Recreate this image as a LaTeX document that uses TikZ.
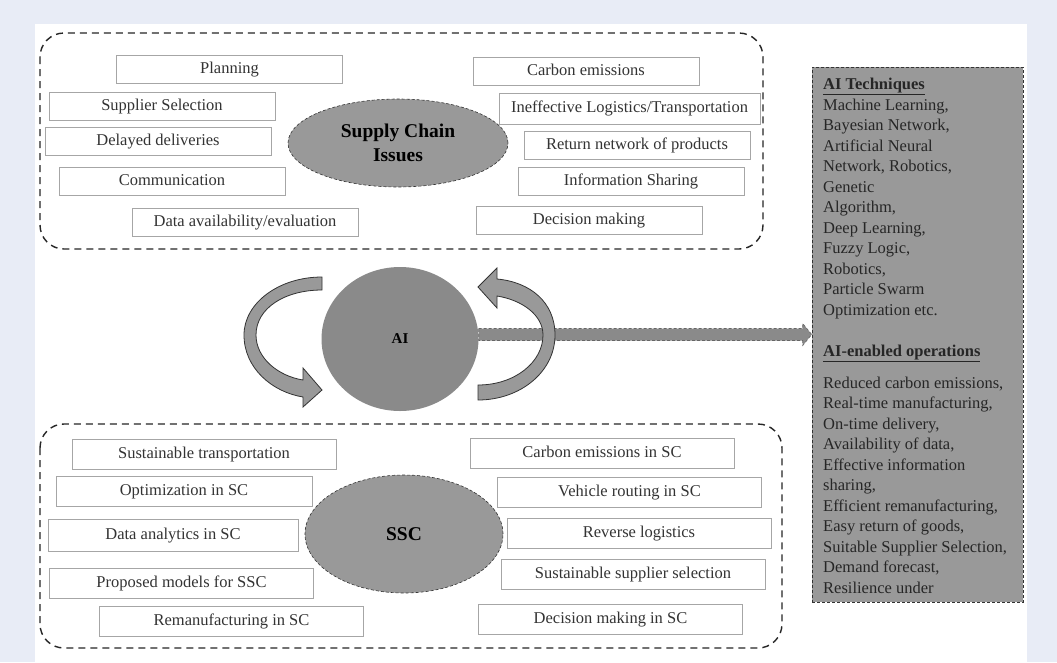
\documentclass[tikz,border=0pt]{standalone}
\usepackage{fontspec}
\setmainfont{Liberation Serif}
\usetikzlibrary{shapes.geometric}

\definecolor{pagebg}{HTML}{E8ECF6}
\definecolor{aigrey}{HTML}{8A8A8A}
\definecolor{midgrey}{HTML}{999999}

\tikzset{
	item/.style={draw=black!35, fill=white, inner sep=0pt, minimum width=226pt, minimum height=28pt, text height=11.5pt, text depth=3.5pt, text=black!80, font=\fontsize{16.5}{19}\selectfont},
	wideitem/.style={item, minimum width=264pt, minimum height=30pt},
	topic/.style={ellipse, draw=black!80, line width=0.6pt, densely dashed, fill=midgrey, inner sep=0pt, align=center, font=\fontsize{19.5}{24}\selectfont\bfseries},
	groupbox/.style={draw=black!85, line width=1.4pt, dash pattern=on 7pt off 5pt, rounded corners=24pt},
	flowarrow/.style={fill=aigrey, draw=black!60, line width=0.6pt, densely dashed},
	cyclearrow/.style={fill=midgrey, draw=black!80, line width=0.8pt}
}

\begin{document}
\begin{tikzpicture}[x=1pt,y=-1pt]
	% page background
	\useasboundingbox (0,0) rectangle (1057,662);
	\fill[pagebg] (0,0) rectangle (1057,662);
	\fill[white] (35,24) rectangle (1027,662);

	% draw the two groups
	\draw[groupbox] (40,33) rectangle (763,249);
	\draw[groupbox] (40,424) rectangle (782,648);

	% supply chain issues
	\node[topic, minimum width=220pt, minimum height=88pt] (issues) at (398,143) {Supply Chain\\Issues};
	\node[item] (planning) at (229.5,69.5) {Planning};
	\node[item] (supplier) at (162,106) {Supplier Selection};
	\node[item] (delayed) at (158,141.5) {Delayed deliveries};
	\node[item] (communication) at (172,181.5) {Communication};
	\node[item] (dataavail) at (245,222) {Data availability/evaluation};
	\node[item] (carbon) at (586,71.5) {Carbon emissions};
	\node[item, minimum width=261pt, minimum height=31pt] (logistics) at (629.5,108.5) {Ineffective Logistics/Transportation};
	\node[item] (returnnet) at (637,145) {Return network of products};
	\node[item] (infosharing) at (631,181.5) {Information Sharing};
	\node[item] (decision) at (589,220) {Decision making};

	% sustainable supply chain
	\node[topic, minimum width=198pt, minimum height=118pt] (ssc) at (404,534) {SSC};
	\node[wideitem] (transport) at (204,454) {Sustainable transportation};
	\node[wideitem, minimum width=256pt] (optim) at (184,491) {Optimization in SC};
	\node[wideitem, minimum width=250pt, minimum height=32pt] (analytics) at (173,535) {Data analytics in SC};
	\node[wideitem] (models) at (181.5,583.5) {Proposed models for SSC};
	\node[wideitem] (reman) at (231.5,621) {Remanufacturing in SC};
	\node[wideitem] (carbonsc) at (602,453.5) {Carbon emissions in SC};
	\node[wideitem] (routing) at (629.5,492) {Vehicle routing in SC};
	\node[wideitem] (reverse) at (639,533) {Reverse logistics};
	\node[wideitem] (sussupplier) at (633,574) {Sustainable supplier selection};
	\node[wideitem] (decisionsc) at (610.5,619) {Decision making in SC};

	% AI techniques and operations
	\node[draw=black!80, line width=0.6pt, densely dashed, fill=midgrey, minimum width=211pt, minimum height=535pt] (aibox) at (917.5,334.5) {};
	\node[anchor=north west, inner sep=0pt, align=left, text=black!85, font=\fontsize{16.5}{20.5}\selectfont] (aitext) at (823,78) {%
		\underline{\textbf{AI Techniques}}\\
		Machine Learning,\\
		Bayesian Network,\\
		Artificial Neural\\
		Network, Robotics,\\
		Genetic\\
		Algorithm,\\
		Deep Learning,\\
		Fuzzy Logic,\\
		Robotics,\\
		Particle Swarm\\
		Optimization etc.\\[20.5pt]
		\underline{\textbf{AI-enabled operations}}\\[11.5pt]
		Reduced carbon emissions,\\
		Real-time manufacturing,\\
		On-time delivery,\\
		Availability of data,\\
		Effective information\\
		sharing,\\
		Efficient remanufacturing,\\
		Easy return of goods,\\
		Suitable Supplier Selection,\\
		Demand forecast,\\
		Resilience under};

	% the AI circle
	\node[ellipse, fill=aigrey, minimum width=157pt, minimum height=144pt, inner sep=0pt, font=\fontsize{15}{18}\selectfont\bfseries] (ai) at (400,339) {AI};

	% arrow from AI to the box
	\coordinate (tip) at (aibox.west);
	\coordinate (arrowbase) at (ai.east |- tip);
	\draw[flowarrow] ([yshift=6pt]arrowbase) -- ([xshift=-9pt,yshift=6pt]tip) -- ([xshift=-9pt,yshift=11pt]tip) -- (tip)
		-- ([xshift=-9pt,yshift=-11pt]tip) -- ([xshift=-9pt,yshift=-6pt]tip) -- ([yshift=-6pt]arrowbase) -- cycle;

	% curved arrows round the circle
	\draw[cyclearrow] (322,277) .. controls (279,277) and (244,303) .. (244,335)
		.. controls (244,368) and (272,392) .. (303,397)
		-- (303,407) -- (322,390) -- (303,368) -- (303,380)
		.. controls (278,376) and (256,358) .. (256,335)
		.. controls (256,308) and (285,290) .. (322,290) -- cycle;
	\draw[cyclearrow] (478,400) .. controls (520,400) and (555,372) .. (555,335)
		.. controls (555,302) and (530,282) .. (497,279)
		-- (497,268) -- (478,287) -- (497,308) -- (497,296)
		.. controls (522,300) and (543,315) .. (543,335)
		.. controls (543,362) and (515,385) .. (478,385) -- cycle;
\end{tikzpicture}
\end{document}
